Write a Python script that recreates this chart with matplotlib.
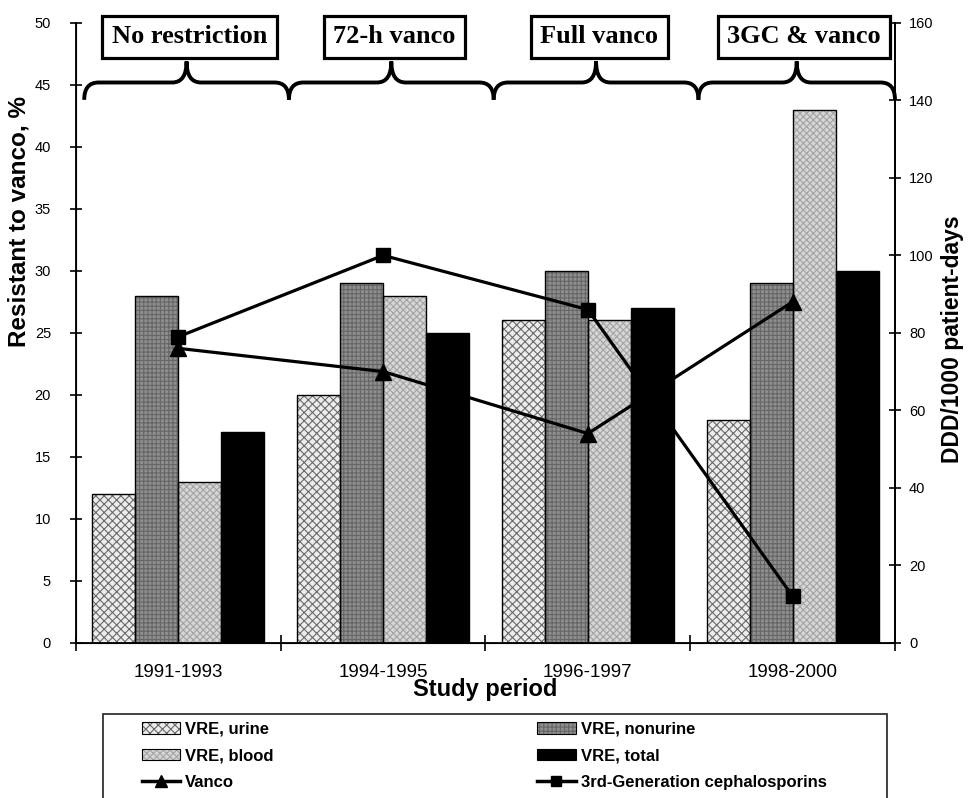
import numpy as np
import matplotlib
matplotlib.use("Agg")
import matplotlib.pyplot as plt
from matplotlib.path import Path
from matplotlib.patches import PathPatch, Patch, Rectangle
from matplotlib.lines import Line2D

# ---------------- data ----------------
periods = ["1991-1993", "1994-1995", "1996-1997", "1998-2000"]
phases = ["No restriction", "72-h vanco", "Full vanco", "3GC & vanco"]

vre_urine = [12, 20, 26, 18]
vre_nonurine = [28, 29, 30, 29]
vre_blood = [13, 28, 26, 43]
vre_total = [17, 25, 27, 30]

vanco_ddd = [76, 70, 54, 88]
ceph3_ddd = [79, 100, 86, 12]

series_names = ["VRE, urine", "VRE, nonurine", "VRE, blood", "VRE, total"]

plt.rcParams["font.family"] = ["Liberation Sans", "DejaVu Sans"]
plt.rcParams["hatch.linewidth"] = 0.8

# face colour, hatch, hatch colour
styles = [
    ("#ececec", "xxxx", "#6a6a6a"),
    ("#8e8e8e", "++++", "#666666"),
    ("#d6d6d6", "xxxxx", "#a4a4a4"),
    ("black", None, "black"),
]

fig = plt.figure(figsize=(9.69, 7.98), dpi=100)
ax = fig.add_axes([76 / 969, 1 - 642.7 / 798, 819 / 969, 619.7 / 798])
ax2 = ax.twinx()

x = np.arange(len(periods))
w = 0.21
offs = (np.arange(4) - 1.5) * w
values = [vre_urine, vre_nonurine, vre_blood, vre_total]

for vals, off, (fc, hatch, hc) in zip(values, offs, styles):
    ax.bar(x + off, vals, w, color=fc, hatch=hatch, edgecolor=hc, linewidth=0, zorder=2)
    ax.bar(x + off, vals, w, fill=False, edgecolor="black", linewidth=1.0, zorder=3)

ax.set_xlim(-0.5, 3.5)
ax.set_ylim(0, 50)
ax.set_yticks(np.arange(0, 51, 5))
ax.set_xticks(np.arange(-0.5, 3.6, 1.0))
ax.set_xticklabels([])
ax.set_xticks(x, minor=True)
ax.set_xticklabels(periods, minor=True, fontsize=13.5)
ax.tick_params(axis="x", which="major", direction="inout", length=12, width=1.2)
ax.tick_params(axis="x", which="minor", length=0, pad=15)
ax.tick_params(axis="y", direction="inout", length=8, width=1.2, labelsize=10.5, pad=14)
ax.set_ylabel("Resistant to vanco, %", fontsize=17.5, fontweight="bold")
ax.yaxis.set_label_coords(-0.056, 0.68)
ax.set_xlabel("Study period", fontsize=17, fontweight="bold", labelpad=-2)
ax.spines["top"].set_visible(False)
for s in ["left", "bottom", "right"]:
    ax.spines[s].set_linewidth(1.3)

ax2.plot(x, vanco_ddd, color="black", lw=2.3, marker="^", ms=11, zorder=5)
ax2.plot(x, ceph3_ddd, color="black", lw=2.3, marker="s", ms=10, zorder=5)
ax2.set_ylim(0, 160)
ax2.set_yticks(np.arange(0, 161, 20))
ax2.tick_params(axis="y", direction="inout", length=8, width=1.2, labelsize=10.5, pad=6)
ax2.set_ylabel("DDD/1000 patient-days", fontsize=16.5, fontweight="bold")
ax2.yaxis.set_label_coords(1.056, 0.49)
ax2.spines["top"].set_visible(False)
ax2.spines["right"].set_linewidth(1.3)

# curly braces and phase boxes
def brace(a, x0, x1, ybase=45.2, yend=43.8, ytip=46.9, r=0.07):
    xm = (x0 + x1) / 2
    verts = [(x0, yend), (x0, ybase), (x0 + r, ybase),
             (xm - r, ybase),
             (xm, ybase), (xm, ytip),
             (xm, ybase), (xm + r, ybase),
             (x1 - r, ybase),
             (x1, ybase), (x1, yend)]
    codes = [Path.MOVETO, Path.CURVE3, Path.CURVE3,
             Path.LINETO,
             Path.CURVE3, Path.CURVE3,
             Path.CURVE3, Path.CURVE3,
             Path.LINETO,
             Path.CURVE3, Path.CURVE3]
    a.add_patch(PathPatch(Path(verts, codes), fill=False, lw=2.8,
                          edgecolor="black", clip_on=False, zorder=6))

for i, ph in enumerate(phases):
    x0 = i - 0.5 + 0.04
    x1 = min(i + 0.5 + 0.04, 3.5)
    brace(ax, x0, x1)
    ax.text(i + 0.055, 48.9, ph, ha="center", va="center", fontsize=19, fontweight="bold",
            family=["Liberation Serif", "DejaVu Serif"], clip_on=False, zorder=7,
            bbox=dict(boxstyle="square,pad=0.36", facecolor="white",
                      edgecolor="black", linewidth=2.3))

# legend
handles = []
for (fc, hatch, hc) in styles:
    h1 = Patch(facecolor=fc, hatch=hatch, edgecolor=hc, linewidth=0)
    h2 = Patch(fill=False, edgecolor="black", linewidth=0.8)
    handles.append((h1, h2))
handles.append(Line2D([], [], color="black", lw=2.5, marker="^", ms=8))
handles.append(Line2D([], [], color="black", lw=2.5, marker="s", ms=7))
labels = series_names + ["Vanco", "3rd-Generation cephalosporins"]
order = [0, 2, 4, 1, 3, 5]
leg = fig.legend([handles[i] for i in order], [labels[i] for i in order],
                 loc="upper left", bbox_to_anchor=(142 / 969, 1 - 722 / 798),
                 ncol=2, frameon=False, borderpad=0, borderaxespad=0,
                 prop=dict(size=12, weight="bold"),
                 handlelength=2.3, handleheight=0.7, handletextpad=0.3,
                 labelspacing=0.68, columnspacing=15.8)
fig.patches.append(Rectangle((103 / 969, -0.02), 784 / 969, 0.02 + 84 / 798,
                             transform=fig.transFigure, fill=False,
                             edgecolor="#333333", linewidth=1.3))

fig.savefig("out.png", dpi=100)
